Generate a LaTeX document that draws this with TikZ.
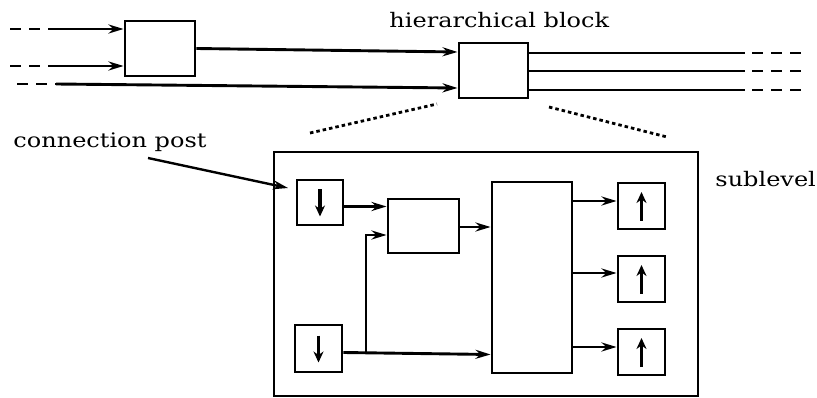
\documentclass[tikz,border=0pt]{standalone}
\usepackage{fontspec}
\setmainfont{DejaVu Serif}
\usetikzlibrary{arrows.meta}
\newcommand{\wid}[1]{\scalebox{1.2}[1]{#1}}
\begin{document}
\begin{tikzpicture}[x=1pt,y=-1pt,
  line width=2.9pt,
  blk/.style={draw,rectangle,inner sep=0pt,minimum width=#1},
  conn/.style={-{Stealth[length=15pt,width=9pt]}},
  postarr/.style={line width=3.2pt,-{Stealth[length=11pt,width=10pt]}},
  dsh/.style={dash pattern=on 11pt off 8pt},
  dot/.style={line width=2.8pt,dash pattern=on 3.5pt off 3pt},
  lbl/.style={font=\fontsize{20}{24}\selectfont,inner sep=0pt}]
\useasboundingbox (0,0) rectangle (817,398);
% top level
\node[blk=70pt,minimum height=55pt] (A) at (160,48.5) {};
\node[blk=69pt,minimum height=55pt] (H) at (493.5,70.5) {};
\node[lbl,anchor=base west] (hl) at (388,28) {\wid{hierarchical block}};
\coordinate (i1) at (10,29); \coordinate (i1s) at (48,29);
\coordinate (i2) at (10,66); \coordinate (i2s) at (48,66);
\coordinate (i3) at (17,84); \coordinate (i3s) at (56,84);
\draw[dsh] (i1) -- (i1s);
\draw[dsh] (i2) -- (i2s);
\draw[dsh] (i3) -- (i3s);
\draw[conn] (i1s) -- (A.west |- i1s);
\draw[conn] (i2s) -- (A.west |- i2s);
\draw[conn] (A.east) -- ([yshift=18.5pt]H.west);
\draw[conn] (i3s) -- ([yshift=-17.5pt]H.west);
\coordinate (o1) at (745,53); \coordinate (o1e) at (802,53);
\coordinate (o2) at (745,71); \coordinate (o2e) at (802,71);
\coordinate (o3) at (745,90); \coordinate (o3e) at (802,90);
\draw (H.east |- o1) -- (o1);
\draw (H.east |- o2) -- (o2);
\draw (H.east |- o3) -- (o3);
\draw[dsh] ([xshift=7pt]o1) -- (o1e);
\draw[dsh] ([xshift=7pt]o2) -- (o2e);
\draw[dsh] ([xshift=7pt]o3) -- (o3e);
% zoom lines
\coordinate (zl1) at (310,133); \coordinate (zl2) at (437,104);
\coordinate (zr1) at (549,107); \coordinate (zr2) at (667,137);
\draw[dot] (zl1) -- (zl2);
\draw[dot] (zr1) -- (zr2);
% sublevel
\node[blk=424pt,minimum height=244pt] (S) at (486,274) {};
\node[lbl,anchor=base west] (sl) at (714,187) {\wid{sublevel}};
\node[lbl,anchor=base west] (cp) at (12,148) {\wid{connection post}};
\coordinate (cpa) at (148,158); \coordinate (cpb) at (288,188);
\draw[conn,line width=2.4pt] (cpa) -- (cpb);
\node[blk=46pt,minimum height=45pt] (P1) at (320,202.5) {};
\node[blk=47pt,minimum height=47pt] (P2) at (318.5,348.5) {};
\node[blk=71pt,minimum height=54pt] (B) at (423.5,226) {};
\node[blk=80pt,minimum height=191pt] (C) at (532,277.5) {};
\node[blk=47pt,minimum height=46pt] (O1) at (641.5,206) {};
\node[blk=47pt,minimum height=46pt] (O2) at (641.5,279) {};
\node[blk=47pt,minimum height=46pt] (O3) at (641.5,352) {};
% arrows in posts
\draw[postarr] ([yshift=13pt]P1.center) -- ([yshift=-14pt]P1.center);
\draw[postarr] ([yshift=13pt]P2.center) -- ([yshift=-14pt]P2.center);
\draw[postarr] ([yshift=-15pt]O1.center) -- ([yshift=14pt]O1.center);
\draw[postarr] ([yshift=-15pt]O2.center) -- ([yshift=14pt]O2.center);
\draw[postarr] ([yshift=-15pt]O3.center) -- ([yshift=14pt]O3.center);
% connector anchor points
\coordinate (p1o) at ([yshift=-4pt]P1.east);
\coordinate (p2o) at ([yshift=-4pt]P2.east);
\coordinate (bo) at ([yshift=-1pt]B.east);
\coordinate (o1i) at ([yshift=5pt]O1.west);
\coordinate (o2i) at ([yshift=6pt]O2.west);
\coordinate (o3i) at ([yshift=5pt]O3.west);
\coordinate (j) at (366,352.5);
% connectors
\draw[conn] (p1o) -- (B.west |- p1o);
\draw[conn] (p2o) -- ([yshift=-2pt]C.west |- p2o);
\draw[conn] (j) |- ([yshift=-9pt]B.west);
\draw[conn] (bo) -- (C.west |- bo);
\draw[conn] (C.east |- o1i) -- (o1i);
\draw[conn] (C.east |- o2i) -- (o2i);
\draw[conn] (C.east |- o3i) -- (o3i);
\end{tikzpicture}
\end{document}
